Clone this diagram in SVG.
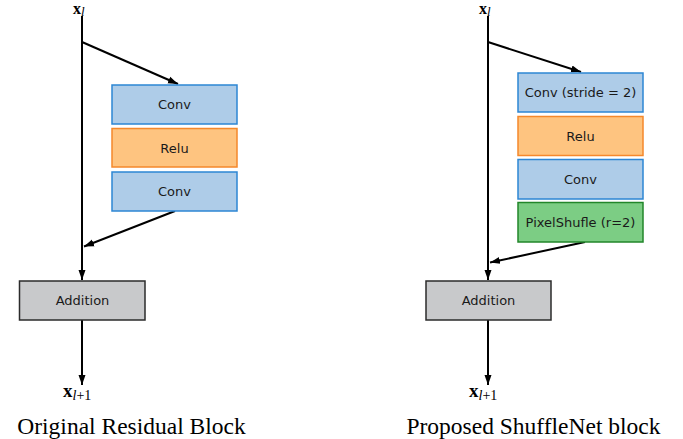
<svg xmlns="http://www.w3.org/2000/svg" width="683" height="439" viewBox="0 0 683 439">
  <style>
    .box { stroke-width: 1.5; }
    .conv { fill: #aecce8; stroke: #2d86d4; }
    .relu { fill: #fec480; stroke: #f5882b; }
    .shuf { fill: #7ccd84; stroke: #22862a; }
    .add { fill: #c8c9cb; stroke: #2b2b2b; }
    .lbl { font-family: "DejaVu Sans", Verdana, sans-serif; font-size: 13px; fill: #1a1a1a; text-anchor: middle; }
    .math { font-family: "Liberation Serif", "Times New Roman", serif; fill: #000; }
    .cap { font-family: "Liberation Serif", "Times New Roman", serif; font-size: 23.5px; fill: #000; text-anchor: middle; }
    .wire { stroke: #000; stroke-width: 2; fill: none; marker-end: url(#head); }
  </style>
  <defs>
    <marker id="head" viewBox="0 0 10 10" refX="10" refY="5" markerWidth="5" markerHeight="5" markerUnits="strokeWidth" orient="auto">
      <path d="M0,1.5 L10,5 L0,8.5 z" fill="#000"/>
    </marker>
  </defs>

  <rect width="683" height="439" fill="#fff"/>

  <!-- connectors -->
  <g id="connectors">
    <!-- residual block -->
    <line class="wire" x1="82" y1="16" x2="82" y2="280"/>
    <line class="wire" x1="82" y1="42" x2="178" y2="84"/>
    <line class="wire" x1="175" y1="211" x2="84" y2="246.5"/>
    <line class="wire" x1="82" y1="320" x2="82" y2="385"/>
    <!-- shufflenet block -->
    <line class="wire" x1="488" y1="16" x2="488" y2="280"/>
    <line class="wire" x1="488" y1="42" x2="581" y2="72"/>
    <line class="wire" x1="585" y1="242" x2="490" y2="262.5"/>
    <line class="wire" x1="488" y1="320" x2="488" y2="385"/>
  </g>

  <!-- residual block nodes -->
  <g id="res-conv1">
    <rect class="box conv" x="112" y="85" width="125" height="39"/>
    <text class="lbl" x="174.5" y="109">Conv</text>
  </g>
  <g id="res-relu">
    <rect class="box relu" x="112" y="128.5" width="125" height="38.5"/>
    <text class="lbl" x="174.5" y="152.5">Relu</text>
  </g>
  <g id="res-conv2">
    <rect class="box conv" x="112" y="172" width="125" height="39"/>
    <text class="lbl" x="174.5" y="196">Conv</text>
  </g>
  <g id="res-add">
    <rect class="box add" x="19.5" y="281" width="125.5" height="39"/>
    <text class="lbl" x="82.5" y="305">Addition</text>
  </g>

  <!-- shufflenet block nodes -->
  <g id="sh-conv1">
    <rect class="box conv" x="518" y="73" width="125" height="39"/>
    <text class="lbl" x="580.5" y="97">Conv (stride = 2)</text>
  </g>
  <g id="sh-relu">
    <rect class="box relu" x="518" y="116.5" width="125" height="39"/>
    <text class="lbl" x="580.5" y="140.5">Relu</text>
  </g>
  <g id="sh-conv2">
    <rect class="box conv" x="518" y="159.5" width="125" height="39.5"/>
    <text class="lbl" x="580.5" y="183.5">Conv</text>
  </g>
  <g id="sh-shuffle">
    <rect class="box shuf" x="518" y="202.5" width="125" height="39.5"/>
    <text class="lbl" x="580.5" y="226.5">PixelShufle (r=2)</text>
  </g>
  <g id="sh-add">
    <rect class="box add" x="426" y="281" width="125" height="39"/>
    <text class="lbl" x="488.5" y="305">Addition</text>
  </g>

  <!-- input / output symbols -->
  <g id="res-in">
    <text class="math" x="73" y="13.5" font-size="16" font-weight="bold">x<tspan font-size="13" font-weight="normal" font-style="italic" dy="2.5">l</tspan></text>
  </g>
  <g id="res-out">
    <text class="math" x="63" y="397" font-size="19" font-weight="bold">x<tspan font-size="14" font-weight="normal" dy="3"><tspan font-style="italic">l</tspan>+1</tspan></text>
  </g>
  <g id="sh-in">
    <text class="math" x="479" y="13.5" font-size="16" font-weight="bold">x<tspan font-size="13" font-weight="normal" font-style="italic" dy="2.5">l</tspan></text>
  </g>
  <g id="sh-out">
    <text class="math" x="469" y="397" font-size="19" font-weight="bold">x<tspan font-size="14" font-weight="normal" dy="3"><tspan font-style="italic">l</tspan>+1</tspan></text>
  </g>

  <!-- captions -->
  <text class="cap" x="131.5" y="434">Original Residual Block</text>
  <text class="cap" x="533.5" y="434">Proposed ShuffleNet block</text>
</svg>
